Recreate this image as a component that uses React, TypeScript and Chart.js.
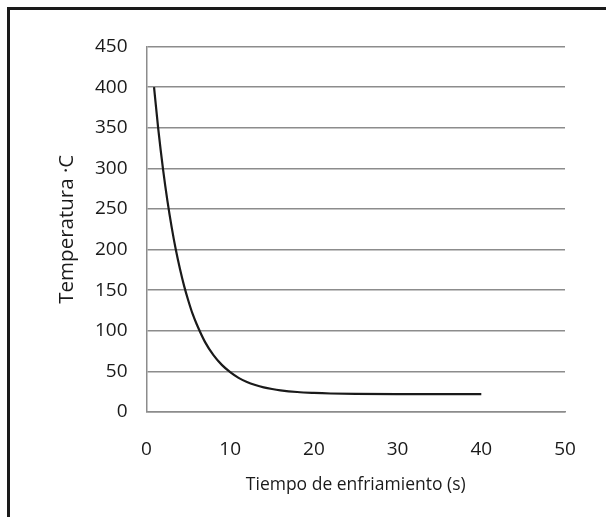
import React, { useEffect, useRef } from "react";
import { Chart, registerables } from "chart.js";

Chart.register(...registerables);

const timeSeconds = [0.9, 1.4, 2, 2.5, 3, 3.5, 4, 4.5, 5, 5.5, 6, 7, 8, 9, 10, 11, 12, 13, 14, 15, 16, 18, 20, 22, 25, 30, 35, 40];
const temperatures = [400, 349, 297, 260, 228, 200, 176, 155, 137, 121, 108, 86, 70, 58, 49, 42, 37, 33.3, 30.4, 28.3, 26.7, 24.6, 23.5, 22.8, 22.3, 22, 22, 22];
const xTicks = [0, 10, 20, 30, 40, 50];
const yTicks = [0, 50, 100, 150, 200, 250, 300, 350, 400, 450];
const xTitle = "Tiempo de enfriamiento (s)";
const yTitle = "Temperatura ·C";

export default function App() {
  const ref = useRef<HTMLCanvasElement | null>(null);

  useEffect(() => {
    if (!ref.current) return;
    const grid = "#8c8c8c";
    const chart = new Chart(ref.current, {
      type: "line",
      data: {
        datasets: [
          {
            data: timeSeconds.map((t, i) => ({ x: t, y: temperatures[i] })),
            borderColor: "#1a1a1a",
            borderWidth: 2.2,
            pointRadius: 0,
            fill: false,
            cubicInterpolationMode: "monotone",
          },
        ],
      },
      options: {
        animation: false,
        responsive: true,
        maintainAspectRatio: false,
        layout: { padding: { left: 0, right: 41, top: 46.5, bottom: 0 } },
        plugins: { legend: { display: false }, tooltip: { enabled: false } },
        scales: {
          x: {
            type: "linear",
            min: 0,
            max: 50,
            afterBuildTicks: (s: any) => {
              s.ticks = xTicks.map((v) => ({ value: v }));
            },
            afterFit: (s: any) => {
              s.height = 105;
              s.paddingLeft = 0;
              s.paddingRight = 0;
            },
            grid: { display: false, drawTicks: false },
            border: { display: true, color: grid, width: 1.5 },
            ticks: {
              color: "#1a1a1a",
              padding: 26,
              maxRotation: 0,
              font: { family: "Open Sans", size: 19 },
            },
            title: {
              display: true,
              text: xTitle,
              color: "#1a1a1a",
              font: { family: "Open Sans", size: 17.5 },
              padding: { top: 0, bottom: 21.5 },
            },
          },
          y: {
            min: 0,
            max: 450,
            afterBuildTicks: (s: any) => {
              s.ticks = yTicks.map((v) => ({ value: v }));
            },
            afterFit: (s: any) => {
              s.width = 146.5;
              s.paddingTop = 0;
              s.paddingBottom = 0;
            },
            grid: { color: grid, lineWidth: 1.5, drawTicks: false },
            border: { display: true, color: grid, width: 1.5 },
            ticks: {
              color: "#1a1a1a",
              padding: 19,
              font: { family: "Open Sans", size: 19 },
            },
            title: {
              display: true,
              text: yTitle,
              color: "#1a1a1a",
              font: { family: "Open Sans", size: 20.5 },
              padding: { top: 55, bottom: 0 },
            },
          },
        },
      },
    });
    return () => chart.destroy();
  }, []);

  return (
    <div style={{ position: "fixed", left: 0, top: 0, width: 606, height: 517, overflow: "hidden", background: "#fff" }}>
      <div
        style={{
          position: "absolute",
          left: 7,
          top: 7,
          width: 700,
          height: 700,
          borderLeft: "3px solid #1a1a1a",
          borderTop: "3px solid #1a1a1a",
        }}
      />
      <div style={{ position: "absolute", left: 0, top: 0, width: 606, height: 517 }}>
        <canvas ref={ref} />
      </div>
    </div>
  );
}
